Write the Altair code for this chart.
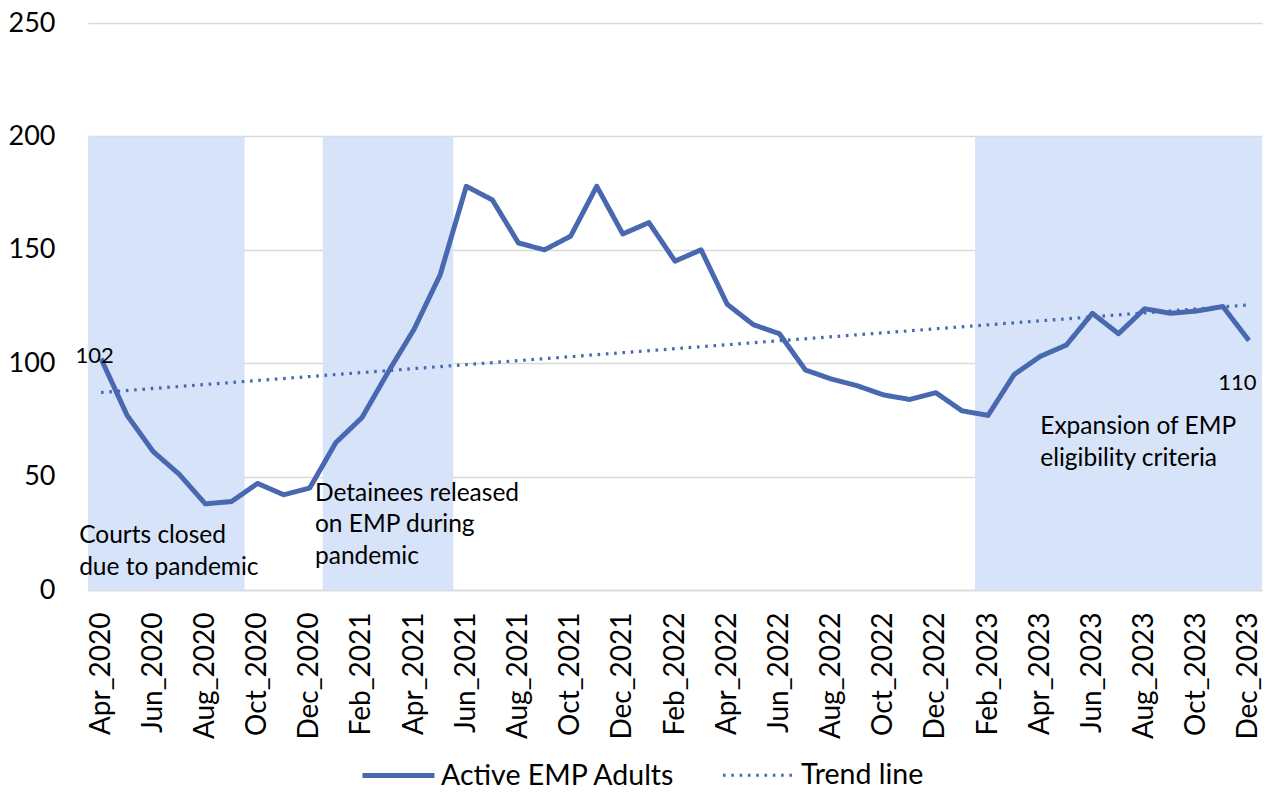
import altair as alt
import pandas as pd

# ---------------- data ----------------
months = [
    "Apr_2020", "May_2020", "Jun_2020", "Jul_2020", "Aug_2020", "Sep_2020",
    "Oct_2020", "Nov_2020", "Dec_2020",
    "Jan_2021", "Feb_2021", "Mar_2021", "Apr_2021", "May_2021", "Jun_2021",
    "Jul_2021", "Aug_2021", "Sep_2021", "Oct_2021", "Nov_2021", "Dec_2021",
    "Jan_2022", "Feb_2022", "Mar_2022", "Apr_2022", "May_2022", "Jun_2022",
    "Jul_2022", "Aug_2022", "Sep_2022", "Oct_2022", "Nov_2022", "Dec_2022",
    "Jan_2023", "Feb_2023", "Mar_2023", "Apr_2023", "May_2023", "Jun_2023",
    "Jul_2023", "Aug_2023", "Sep_2023", "Oct_2023", "Nov_2023", "Dec_2023",
]
active_emp_adults = [
    102, 77, 61, 51, 38, 39, 47, 42, 45,
    65, 76, 96, 115, 139, 178, 172, 153, 150, 156, 178, 157,
    162, 145, 150, 126, 117, 113, 97, 93, 90, 86, 84, 87,
    79, 77, 95, 103, 108, 122, 113, 124, 122, 123, 125, 110,
]
series_names = ["Active EMP Adults", "Trend line"]

# shaded periods (first and last month covered) and their upper value
band_start = ["Apr_2020", "Jan_2021", "Feb_2023"]
band_end = ["Sep_2020", "May_2021", "Dec_2023"]
band_top = 200

# annotation texts, anchored at a month offset and a value
annot_text = [
    "Courts closed\ndue to pandemic",
    "Detainees released\non EMP during\npandemic",
    "Expansion of EMP\neligibility criteria",
]
annot_month_pos = [-0.84, 8.2, 36.0]
annot_value = [20.7, 39.3, 68.7]

# ---------------- tables ----------------
df = pd.DataFrame({
    "idx": list(range(len(months))),
    "month": months,
    "value": active_emp_adults,
})
bands = pd.DataFrame({
    "x0": [months.index(m) - 0.5 for m in band_start],
    "x1": [months.index(m) + 0.5 for m in band_end],
    "y0": [0] * len(band_start),
    "y1": [band_top] * len(band_start),
})
annots = pd.DataFrame({"text": annot_text, "x": annot_month_pos, "y": annot_value})

FONT = "Lato"
LINE_COLOR = "#4868B0"
BAND_COLOR = "#D6E3F8"
GRID = "#D9D9D9"

label_array = "[" + ",".join("'" + m + "'" for m in months) + "]"

x_scale = alt.Scale(domain=[-0.5, len(months) - 0.5], nice=False, zero=False)
y_scale = alt.Scale(domain=[0, 250], nice=False)

x_axis = alt.Axis(
    values=list(range(0, len(months), 2)),
    labelExpr=label_array + "[datum.value]",
    labelAngle=-90, labelAlign="right", labelBaseline="middle",
    labelFont=FONT, labelFontSize=28, labelColor="black",
    labelPadding=22, labelOverlap=False, labelFlush=False,
    ticks=False, grid=False, domain=True, domainColor=GRID, domainWidth=1.5,
    title=None,
)
y_axis = alt.Axis(
    values=[0, 50, 100, 150, 200, 250],
    labelFont=FONT, labelFontSize=27, labelColor="black", labelPadding=33,
    ticks=False, domain=False, grid=True, gridColor=GRID, gridWidth=1.5,
    title=None,
)

legend = alt.Legend(
    orient="none", legendX=272, legendY=714, direction="horizontal",
    title=None, labelFont=FONT, labelFontSize=28.5, labelColor="black",
    symbolType="stroke", symbolSize=5184, columnPadding=40, labelOffset=4,
    labelLimit=500, padding=0,
)
color_enc = alt.Color("series:N", scale=alt.Scale(domain=series_names,
                      range=[LINE_COLOR, LINE_COLOR]), legend=legend)
dash_enc = alt.StrokeDash("series:N", scale=alt.Scale(domain=series_names,
                          range=[[1, 0], [2.6, 5.7]]), legend=legend)
width_enc = alt.StrokeWidth("series:N", scale=alt.Scale(domain=series_names,
                            range=[5, 3.2]), legend=legend)

base = alt.Chart(df)

band_layer = alt.Chart(bands).mark_rect(color=BAND_COLOR).encode(
    x=alt.X("x0:Q", scale=x_scale, axis=x_axis),
    x2="x1:Q",
    y=alt.Y("y0:Q", scale=y_scale, axis=y_axis),
    y2="y1:Q",
)

line_layer = base.transform_calculate(series="'Active EMP Adults'").mark_line(
    strokeJoin="round"
).encode(
    x=alt.X("idx:Q", scale=x_scale, axis=x_axis),
    y=alt.Y("value:Q", scale=y_scale, axis=y_axis),
    color=color_enc, strokeDash=dash_enc, strokeWidth=width_enc,
)

trend_layer = base.transform_regression(
    "idx", "value", extent=[0, len(months) - 1]
).transform_calculate(series="'Trend line'").mark_line().encode(
    x=alt.X("idx:Q", scale=x_scale, axis=x_axis),
    y=alt.Y("value:Q", scale=y_scale, axis=y_axis),
    color=color_enc, strokeDash=dash_enc, strokeWidth=width_enc,
)

first_label = base.transform_filter(alt.datum.idx == 0).mark_text(
    font=FONT, fontSize=22, color="black", align="center",
    baseline="alphabetic", dx=-6.5, dy=4,
).encode(x="idx:Q", y="value:Q", text="value:Q")

last_label = base.transform_filter(alt.datum.idx == len(months) - 1).mark_text(
    font=FONT, fontSize=22, color="black", align="center",
    baseline="alphabetic", dx=-11.5, dy=49,
).encode(x="idx:Q", y="value:Q", text="value:Q")

annot_layer = alt.Chart(annots).mark_text(
    font=FONT, fontSize=24.5, color="black", align="left",
    baseline="alphabetic", lineBreak="\n", lineHeight=31.5,
).encode(x="x:Q", y="y:Q", text="text:N")

chart = alt.layer(
    band_layer, trend_layer, line_layer, first_label, last_label, annot_layer
).properties(
    width=1174, height=567,
    autosize=alt.AutoSizeParams(type="none"),
    padding={"left": 80, "top": 15, "right": 5, "bottom": 200},
    background="white",
).configure_view(stroke=None)

chart.save("out.html", embed_options={"renderer": "svg", "actions": False})
